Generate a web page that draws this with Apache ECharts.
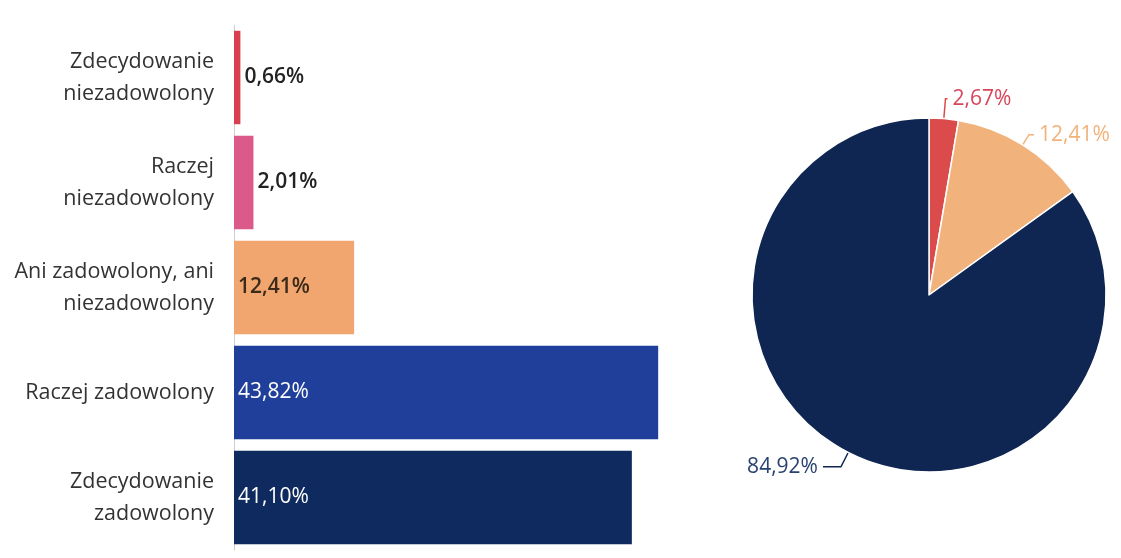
<!DOCTYPE html>
<html><head><meta charset="utf-8">
<script src="https://cdn.jsdelivr.net/npm/echarts@6/dist/echarts.min.js"></script>
<style>html,body{margin:0;padding:0;background:#fff}#c{width:1121px;height:558px}</style>
</head><body><div id="c"></div>
<script>
const categories = ['Zdecydowanie\nniezadowolony','Raczej\nniezadowolony','Ani zadowolony, ani\nniezadowolony','Raczej zadowolony','Zdecydowanie\nzadowolony'];
const barValues = [0.66, 2.01, 12.41, 43.82, 41.10];
const barColors = ['#d9404f','#dc5a8a','#f2a66f','#1f3f9a','#0f2a5e'];
const pieNames = ['Niezadowoleni','Neutralni','Zadowoleni'];
const pieValues = [2.67, 12.41, 84.92];
const pieColors = ['#db4b4b','#f2b27b','#0f2552'];
const pieLabelColors = ['#d9455a','#f2b27b','#2a4270'];
const fmt = v => v.toFixed(2).replace('.', ',') + '%';
const labelPos = ['right','right','insideLeft','insideLeft','insideLeft'];
const labelCol = ['#222','#222','#3a2a1a','#fff','#fff'];
const lineLen = [[20,2],[12,5],[16,18]];
const chart = echarts.init(document.getElementById('c'));
chart.setOption({
  animation:false,
  textStyle:{fontFamily:'Open Sans'},
  grid:{left:234, top:25, width:484, height:525},
  xAxis:{type:'value', min:0, max:50, show:false},
  yAxis:{type:'category', data:categories, inverse:true,
    axisLine:{lineStyle:{color:'#cfcfcf'}}, axisTick:{show:false},
    axisLabel:{fontSize:21.5, color:'#333', lineHeight:32, margin:20, fontFamily:'Open Sans'}},
  series:[{type:'bar', barCategoryGap:'11%',
    data: barValues.map((v,i)=>({value:v, itemStyle:{color:barColors[i]},
      label:{show:true, position:labelPos[i], distance:4, color:labelCol[i], formatter:()=>fmt(v), fontSize:21, fontFamily:'Open Sans', fontWeight: i<3?600:400}}))
  },{
    type:'pie', center:[929,295], radius:177, startAngle:90, clockwise:true,
    data: pieValues.map((v,i)=>({name:pieNames[i], value:v, itemStyle:{color:pieColors[i], borderColor:'#fff', borderWidth:1.5},
      label:{color:pieLabelColors[i]}, labelLine:{length:lineLen[i][0], length2:lineLen[i][1], lineStyle:{color:pieColors[i], width:1.5}}})),
    label:{show:true, formatter:p=>fmt(p.value), fontSize:21, fontFamily:'Open Sans', overflow:'none', edgeDistance:4},
    labelLine:{show:true}
  }]
});
</script></body></html>
